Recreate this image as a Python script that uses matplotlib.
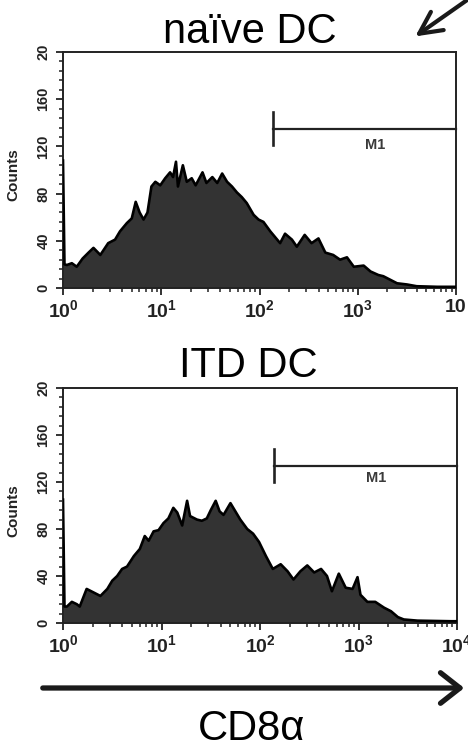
import matplotlib
matplotlib.use("Agg")
import matplotlib.pyplot as plt
from matplotlib.ticker import FixedLocator, LogLocator, MultipleLocator, NullFormatter
import numpy as np

plt.rcParams['font.family'] = ['Liberation Sans', 'DejaVu Sans']
plt.rcParams['mathtext.fontset'] = 'custom'
plt.rcParams['mathtext.rm'] = 'Liberation Sans'
plt.rcParams['mathtext.it'] = 'Liberation Sans:italic'
plt.rcParams['mathtext.bf'] = 'Liberation Sans:bold'

# ---------------- data ----------------
panel_titles = ["naïve DC", "ITD DC"]
x_axis_label = "CD8α"
y_axis_label = "Counts"

# log10 of CD8a fluorescence intensity, and event counts
naive_log_fl = [0.00, 0.015, 0.04, 0.09, 0.14, 0.20, 0.26, 0.31, 0.38, 0.42, 0.46, 0.53,
                0.58, 0.65, 0.70, 0.74, 0.78, 0.82, 0.86, 0.90, 0.94, 0.99, 1.04, 1.09,
                1.12, 1.15, 1.17, 1.22, 1.26, 1.31, 1.35, 1.42, 1.46, 1.52, 1.57, 1.62,
                1.67, 1.72, 1.77, 1.82, 1.87, 1.94, 1.99, 2.04, 2.11, 2.21, 2.26, 2.33,
                2.38, 2.46, 2.53, 2.60, 2.67, 2.75, 2.82, 2.89, 2.96, 3.06, 3.13, 3.21,
                3.26, 3.33, 3.40, 3.50, 3.60, 3.81, 4.00]
naive_counts = [108, 20, 19.5, 21, 18, 25, 30, 34, 28, 33, 38, 41,
                48, 55, 59, 73, 64, 58, 64, 86, 90, 87, 93, 98,
                94, 107, 86, 104, 90, 93, 87, 98, 89, 94, 89, 97,
                90, 86, 81, 77, 72, 62, 58, 56, 48, 38, 46, 41,
                35, 45, 38, 42, 30, 28, 24, 26, 18, 19, 14, 11,
                10, 7, 4, 3, 1.5, 1, 1]

itd_log_fl = [0.00, 0.015, 0.04, 0.09, 0.14, 0.17, 0.24, 0.31, 0.38, 0.45, 0.50, 0.55,
              0.60, 0.65, 0.72, 0.78, 0.83, 0.87, 0.92, 0.97, 1.02, 1.07, 1.12, 1.16,
              1.21, 1.26, 1.29, 1.36, 1.41, 1.46, 1.50, 1.55, 1.59, 1.63, 1.70, 1.75,
              1.80, 1.87, 1.93, 1.99, 2.06, 2.13, 2.21, 2.28, 2.34, 2.41, 2.48, 2.55,
              2.62, 2.68, 2.73, 2.80, 2.87, 2.94, 2.99, 3.02, 3.09, 3.17, 3.26, 3.33,
              3.40, 3.46, 3.60, 3.94, 4.00]
itd_counts = [105, 14, 14, 18, 16, 14, 29, 26, 23, 29, 36, 40,
              46, 48, 57, 63, 74, 70, 78, 79, 85, 89, 98, 94,
              83, 104, 91, 88, 87, 89, 96, 104, 95, 92, 102, 95,
              88, 80, 76, 69, 57, 46, 50, 44, 37, 44, 49, 43,
              46, 40, 27, 42, 30, 29, 39, 24, 18, 18, 13, 10,
              5, 3, 2, 1.5, 1.5]

# M1 gate: start intensity and height (counts)
m1_start = 138
m1_y = [135, 134]
m1_label_x = 1500
m1_label_y = [121, 123]

y_ticks = [0, 40, 80, 120, 160, 200]
y_ticklabels = ["0", "40", "80", "120", "160", "20"]
x_ticks = [1, 10, 100, 1000, 10000]
x_ticklabels_top = [r"$\mathbf{10^{0}}$", r"$\mathbf{10^{1}}$", r"$\mathbf{10^{2}}$",
                    r"$\mathbf{10^{3}}$", "10"]
x_ticklabels_bottom = [r"$\mathbf{10^{0}}$", r"$\mathbf{10^{1}}$", r"$\mathbf{10^{2}}$",
                       r"$\mathbf{10^{3}}$", r"$\mathbf{10^{4}}$"]

# ---------------- figure ----------------
W, H = 468, 750
fig = plt.figure(figsize=(W / 100, H / 100), dpi=100)


def px_axes(left, right, top, bottom):
    return fig.add_axes([left / W, 1 - bottom / H, (right - left) / W, (bottom - top) / H])


ax_top = px_axes(63, 456, 52, 288)
ax_bot = px_axes(63, 457, 388, 623)

series = [
    (ax_top, naive_log_fl, naive_counts, x_ticklabels_top, 0),
    (ax_bot, itd_log_fl, itd_counts, x_ticklabels_bottom, 1),
]

for ax, lg, cnt, xtl, i in series:
    x = 10 ** np.array(lg)
    y = np.array(cnt)
    ax.fill_between(x, 0, y, color="#333333", lw=0, zorder=2)
    ax.plot(x, y, color="black", lw=1.9, zorder=3)
    ax.set_xscale("log")
    ax.set_xlim(1, 1e4)
    ax.set_ylim(0, 200)

    # M1 gate
    ax.plot([m1_start, 1e4], [m1_y[i], m1_y[i]], color="#222222", lw=1.6, zorder=4,
            clip_on=False)
    ax.plot([m1_start, m1_start], [m1_y[i] - 14, m1_y[i] + 14], color="#222222", lw=1.9,
            zorder=4)
    ax.text(m1_label_x, m1_label_y[i], "M1", fontsize=10.5, fontweight="bold",
            color="#3a3a3a", ha="center", va="center")

    for s in ax.spines.values():
        s.set_linewidth(1.4)
        s.set_color("#222222")

    ax.xaxis.set_major_locator(FixedLocator(x_ticks))
    ax.xaxis.set_minor_locator(LogLocator(base=10, subs=np.arange(2, 10)))
    ax.xaxis.set_minor_formatter(NullFormatter())
    ax.set_xticklabels(xtl)
    ax.yaxis.set_major_locator(FixedLocator(y_ticks))
    ax.yaxis.set_minor_locator(MultipleLocator(8))
    ax.set_yticklabels(y_ticklabels)
    ax.tick_params(axis="both", which="major", direction="out", length=5, width=1.3,
                   color="#222222")
    ax.tick_params(axis="both", which="minor", direction="out", length=3, width=1.1,
                   color="#222222")
    ax.tick_params(axis="x", which="major", labelsize=14, pad=3, labelcolor="#222222")
    ax.tick_params(axis="y", which="major", labelsize=10.5, pad=4, labelcolor="#222222")
    for lab in ax.get_xticklabels():
        lab.set_fontweight("bold")
    for lab in ax.get_yticklabels():
        lab.set_rotation(90)
        lab.set_va("center")
        lab.set_fontweight("bold")
    ax.set_ylabel(y_axis_label, fontsize=11, fontweight="bold", color="#222222")
    ax.yaxis.set_label_coords(-0.108, 0.48)

# panel titles
fig.text(250 / W, 1 - 43 / H, panel_titles[0], fontsize=30, ha="center", va="baseline")
fig.text(248 / W, 1 - 377 / H, panel_titles[1], fontsize=30, ha="center", va="baseline")

# arrows
fig.patches.append(matplotlib.patches.FancyArrowPatch(
    (470 / W, 1 + 2 / H), (413 / W, 1 - 38 / H), transform=fig.transFigure,
    arrowstyle="->,head_length=16,head_width=8", lw=3, color="#1a1a1a",
    mutation_scale=1))
fig.patches.append(matplotlib.patches.FancyArrowPatch(
    (40 / W, 1 - 688 / H), (467 / W, 1 - 688 / H), transform=fig.transFigure,
    arrowstyle="->,head_length=14,head_width=11", lw=3.8, color="#1a1a1a",
    mutation_scale=1))

fig.text(251 / W, 1 - 740 / H, x_axis_label, fontsize=30, ha="center", va="baseline")

fig.savefig("out.png", dpi=100)
